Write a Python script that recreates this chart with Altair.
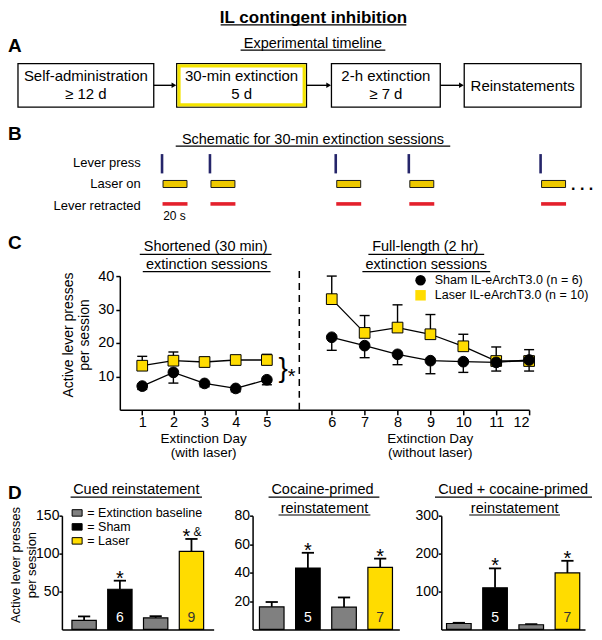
import altair as alt
import pandas as pd

# ---------------- data ----------------
timeline_stage = ["Self-administration", "30-min extinction", "2-h extinction", "Reinstatements"]
timeline_duration = ["≥ 12 d", "5 d", "≥ 7 d", ""]

schematic_rows = ["Lever press", "Laser on", "Lever retracted"]
press_times_s = [0, 40, 145, 206, 316]
laser_duration_s = 20

days = list(range(1, 13))
sham_mean = [7.1, 11.2, 7.9, 6.4, 9.0, 21.7, 19.2, 16.6, 14.7, 14.4, 14.2, 14.9]
sham_sem = [1.0, 3.2, 1.0, 1.0, 1.5, 3.9, 3.6, 3.1, 3.9, 3.2, 2.6, 3.3]
laser_mean = [13.2, 14.7, 14.3, 14.9, 14.9, 33.1, 23.0, 24.6, 22.6, 19.0, 14.6, 14.6]
laser_sem = [2.8, 2.6, 1.4, 1.0, 1.7, 6.9, 5.2, 6.8, 5.9, 3.6, 4.2, 3.4]
c_groups = ["Sham IL-eArchT3.0 (n = 6)", "Laser IL-eArchT3.0 (n = 10)"]

bar_ids = ["Sham baseline", "Sham", "Laser baseline", "Laser"]
bar_groups = ["Extinction baseline", "Sham", "Extinction baseline", "Laser"]
legend_groups = ["Extinction baseline", "Sham", "Laser"]

cued_mean = [12.0, 53.0, 15.3, 103.0]
cued_sem = [5.2, 11.3, 2.2, 16.3]
cued_n = ["", "6", "", "9"]
cued_sig = ["", "*", "", "*"]
cued_amp = ["", "", "", "&"]

cocaine_mean = [15.9, 43.2, 15.7, 43.6]
cocaine_sem = [3.4, 10.7, 6.8, 6.2]
cocaine_n = ["", "5", "", "7"]
cocaine_sig = ["", "*", "", "*"]
cocaine_amp = ["", "", "", ""]

combo_mean = [15.8, 110.0, 12.5, 149.0]
combo_sem = [1.8, 51.0, 1.5, 32.0]
combo_n = ["", "5", "", "7"]
combo_sig = ["", "*", "", "*"]
combo_amp = ["", "", "", ""]

# ---------------- styles / layout ----------------
FONT = "Liberation Sans"
YELLOW = "#FFDC00"
BOX_YELLOW = "#F4E400"
LASER_GOLD = "#EEC900"
RED = "#E4202C"
NAVY = "#25256A"
GRAY = "#808080"

W = 586
REF_X0 = 4
H1, H2, H3, H4 = 268, 134, 106, 114


def text_layer(df, xs, ys, size, weight="normal", align="center", color="black"):
    return alt.Chart(df).mark_text(font=FONT, fontSize=size, fontWeight=weight, align=align,
                                   baseline="alphabetic", color=color).encode(
        x=alt.X("x:Q", scale=xs, axis=None), y=alt.Y("y:Q", scale=ys, axis=None), text="t:N")


def rule_layer(df, xs, ys, color="black", width=1.0):
    return alt.Chart(df).mark_rule(color=color, strokeWidth=width).encode(
        x=alt.X("x:Q", scale=xs, axis=None), x2="x2:Q",
        y=alt.Y("y:Q", scale=ys, axis=None), y2="y2:Q")


def rect_layer(df, xs, ys, **kw):
    return alt.Chart(df).mark_rect(**kw).encode(
        x=alt.X("x:Q", scale=xs, axis=None), x2="x2:Q",
        y=alt.Y("y:Q", scale=ys, axis=None), y2="y2:Q")


def underline(x1, x2, y):
    return [x1, x2, y, y]


# ================= Row 1: title, A, B, C headings =================
xs1 = alt.Scale(domain=[REF_X0, REF_X0 + W], range=[0, W], nice=False, zero=False)
ys1 = alt.Scale(domain=[0, 277], range=[0, H1], nice=False, zero=False)

box_left = [14, 173, 328, 461]
box_right = [150, 303, 437, 578]
BOX_TOP, BOX_BOT, ARROW_Y = 57, 102, 79.5

t_title = pd.DataFrame([["IL contingent inhibition", 310, 14.5]], columns=["t", "x", "y"])
t_letters = pd.DataFrame([["A", 4, 45], ["B", 4, 136], ["C", 4, 249]], columns=["t", "x", "y"])
t_sub = pd.DataFrame([
    ["Experimental timeline", 309.5, 41],
    ["Schematic for 30-min extinction sessions", 309.5, 140],
    ["Shortened (30 min)", 202, 250.7],
    ["extinction sessions", 203, 269.7],
    ["Full-length (2 hr)", 422, 250.7],
    ["extinction sessions", 423, 269.7],
], columns=["t", "x", "y"])
under1 = pd.DataFrame([
    underline(217, 403, 17),
    underline(237, 382, 43),
    underline(172, 447, 142.5),
    underline(136, 268, 254.5),
    underline(139, 267, 272.3),
    underline(365, 481, 254.5),
    underline(359, 487, 272.3),
], columns=["x", "x2", "y", "y2"])

box_rows, box_txt = [], []
for i, (stage, dur) in enumerate(zip(timeline_stage, timeline_duration)):
    box_rows.append([box_left[i], box_right[i], BOX_TOP, BOX_BOT])
    cxm = (box_left[i] + box_right[i]) / 2
    if dur:
        box_txt.append([stage, cxm, 75])
        box_txt.append([dur, cxm, 94])
    else:
        box_txt.append([stage, cxm, 85])
boxes = pd.DataFrame(box_rows, columns=["x", "x2", "y", "y2"])
box_txt = pd.DataFrame(box_txt, columns=["t", "x", "y"])
inner_box = pd.DataFrame([[box_left[1] + 2.3, box_right[1] - 2.3, BOX_TOP + 2.3, BOX_BOT - 2.3]],
                         columns=["x", "x2", "y", "y2"])
arrows = pd.DataFrame([[box_right[i], box_left[i + 1] - 3, ARROW_Y, ARROW_Y] for i in range(3)],
                      columns=["x", "x2", "y", "y2"])
heads = pd.DataFrame([[box_left[i + 1] - 2.8, ARROW_Y] for i in range(3)], columns=["x", "y"])

PX_PER_S = 1.2
T0_X = 158.3
press_x = [T0_X + t * PX_PER_S for t in press_times_s]
press_df = pd.DataFrame([[p, p, 150.7, 170.7] for p in press_x], columns=["x", "x2", "y", "y2"])
laser_df = pd.DataFrame([[p + 1, p + 1 + laser_duration_s * PX_PER_S, 178, 185.3] for p in press_x],
                        columns=["x", "x2", "y", "y2"])
retract_df = pd.DataFrame([[p + 0.5, p + 1.5 + laser_duration_s * PX_PER_S, 202.3, 202.3] for p in press_x],
                          columns=["x", "x2", "y", "y2"])
row_lbl = pd.DataFrame([[schematic_rows[0], 137, 164.5], [schematic_rows[1], 137, 185.5],
                        [schematic_rows[2], 137, 208.5]], columns=["t", "x", "y"])
t_20s = pd.DataFrame([["20 s", T0_X + 12.5, 219]], columns=["t", "x", "y"])
t_dots = pd.DataFrame([[". . .", 568, 187.5]], columns=["t", "x", "y"])

row1 = alt.layer(
    rect_layer(boxes, xs1, ys1, fill="white", stroke="black", strokeWidth=1.3),
    rect_layer(inner_box, xs1, ys1, fillOpacity=0, stroke=BOX_YELLOW, strokeWidth=3.2),
    rule_layer(arrows, xs1, ys1, width=1.4),
    alt.Chart(heads).mark_point(shape="triangle-right", filled=True, size=30, color="black", opacity=1).encode(
        x=alt.X("x:Q", scale=xs1, axis=None), y=alt.Y("y:Q", scale=ys1, axis=None)),
    text_layer(t_title, xs1, ys1, 17, weight="bold"),
    text_layer(t_letters, xs1, ys1, 19, weight="bold", align="left"),
    text_layer(t_sub, xs1, ys1, 14.5),
    rule_layer(under1, xs1, ys1, width=1.2),
    text_layer(box_txt, xs1, ys1, 15),
    text_layer(row_lbl, xs1, ys1, 13, align="right"),
    rule_layer(press_df, xs1, ys1, color=NAVY, width=2.6),
    rect_layer(laser_df, xs1, ys1, fill=LASER_GOLD, stroke="#1a1a1a", strokeWidth=1),
    rule_layer(retract_df, xs1, ys1, color=RED, width=3.6),
    text_layer(t_20s, xs1, ys1, 12),
    text_layer(t_dots, xs1, ys1, 16, weight="bold", align="left"),
).properties(width=W, height=H1)

# ================= Row 2: panel C line chart =================
rows = []
for g, means, sems in [(c_groups[1], laser_mean, laser_sem), (c_groups[0], sham_mean, sham_sem)]:
    for d, m, s in zip(days, means, sems):
        if g == c_groups[1]:
            lo, hi, cap = m, m + s, m + s
        else:
            lo, hi, cap = m - s, m, m - s
        rows.append([g, d, m, lo, hi, cap, 1 if d <= 5 else 2])
cdf = pd.DataFrame(rows, columns=["group", "day", "mean", "lo", "hi", "cap", "phase"])

C_X0 = 112  # left edge of the panel-C plot inside the row
cx_scale = alt.Scale(domain=[0.28, 5, 6, 12], range=[C_X0, C_X0 + 147.3, C_X0 + 212.3, C_X0 + 410],
                     nice=False, zero=False)
cy_scale = alt.Scale(domain=[0, 40], nice=False, zero=True)
c_xaxis = alt.Axis(values=days, format="d", labelFontSize=14.5, tickSize=5, labelPadding=1, grid=False,
                   domainColor="black", tickColor="black", labelColor="black", domainWidth=1.5, tickWidth=1.5)
c_yaxis = alt.Axis(values=[10, 20, 30, 40], orient="left", offset=-C_X0, labelFontSize=14.5, tickSize=4,
                   labelPadding=2, grid=False,
                   domainColor="black", tickColor="black", labelColor="black", domainWidth=1.5, tickWidth=1.5,
                   titleFontSize=14, titleFontWeight="normal", titleColor="black", titleLineHeight=16.5,
                   titlePadding=6, titleY=58.5)
C_YTITLE = ["Active lever presses", "per session"]


def cX(f="day"):
    return alt.X(f"{f}:Q", scale=cx_scale, axis=c_xaxis, title=None)


def cY(f):
    return alt.Y(f"{f}:Q", scale=cy_scale, axis=c_yaxis, title=C_YTITLE)


c_legend = alt.Legend(orient="none", legendX=C_X0 + 295, legendY=-2, title=None, labelFontSize=12.5,
                      labelFont=FONT, labelColor="black", symbolSize=110, symbolStrokeColor="black",
                      symbolStrokeWidth=1, labelOffset=8, rowPadding=0, padding=0)

dash_df = pd.DataFrame({"day": [5.5], "lo": [0], "hi": [42]})
brace_df = pd.DataFrame({"day": [5.25], "mean": [11.8], "t": ["}"]})
star_df = pd.DataFrame({"day": [5.38], "mean": [11.4], "t": ["*"]})

row2 = alt.layer(
    alt.Chart(dash_df).mark_rule(strokeDash=[7, 5], strokeWidth=1.5, color="black").encode(
        x=cX(), y=cY("lo"), y2="hi:Q"),
    alt.Chart(cdf).mark_line(color="black", strokeWidth=1.3).encode(
        x=cX(), y=cY("mean"), detail=["group:N", "phase:N"]),
    alt.Chart(cdf).mark_rule(color="black", strokeWidth=1.4).encode(x=cX(), y=cY("lo"), y2="hi:Q"),
    alt.Chart(cdf).mark_point(shape="stroke", size=100, color="black", strokeWidth=1.4, opacity=1).encode(
        x=cX(), y=cY("cap")),
    alt.Chart(cdf).mark_point(filled=True, size=115, stroke="black", strokeWidth=1, opacity=1).encode(
        x=cX(), y=cY("mean"),
        fill=alt.Fill("group:N", scale=alt.Scale(domain=c_groups, range=["black", YELLOW]), legend=c_legend),
        shape=alt.Shape("group:N", scale=alt.Scale(domain=c_groups, range=["circle", "square"]), legend=c_legend)),
    alt.Chart(brace_df).mark_text(fontSize=28, dy=7, baseline="alphabetic", font=FONT, color="black").encode(
        x=cX(), y=cY("mean"), text="t:N"),
    alt.Chart(star_df).mark_text(fontSize=20, dy=11, baseline="alphabetic", font=FONT, color="black").encode(
        x=cX(), y=cY("mean"), text="t:N"),
).properties(width=W, height=H2)

# ================= Row 3: C x-titles, D heading and titles =================
xs3 = alt.Scale(domain=[REF_X0, REF_X0 + W], range=[0, W], nice=False, zero=False)
ys3 = alt.Scale(domain=[414, 522], range=[0, H3], nice=False, zero=False)
t_cx = pd.DataFrame([["Extinction Day", 200, 447.5], ["(with laser)", 200, 462.5],
                     ["Extinction Day", 427, 447.5], ["(without laser)", 427, 462.5]], columns=["t", "x", "y"])
t_d = pd.DataFrame([["D", 4, 505]], columns=["t", "x", "y"])
t_dt = pd.DataFrame([["Cued reinstatement", 132.5, 500], ["Cocaine-primed", 319, 500],
                     ["reinstatement", 321, 519], ["Cued + cocaine-primed", 510, 500],
                     ["reinstatement", 511.5, 519]], columns=["t", "x", "y"])
under3 = pd.DataFrame([underline(66.7, 198.3, 503), underline(265, 376, 503), underline(275, 367, 521.3),
                       underline(431.7, 589, 503), underline(466, 557, 521.3)], columns=["x", "x2", "y", "y2"])
row3 = alt.layer(
    text_layer(t_cx, xs3, ys3, 13.5),
    text_layer(t_d, xs3, ys3, 19, weight="bold", align="left"),
    text_layer(t_dt, xs3, ys3, 14.5),
    rule_layer(under3, xs3, ys3, width=1.2),
).properties(width=W, height=H3)


# ================= Row 4: panel D bar charts =================
def bar_panel(mean, sem, nlab, sig, amp, ymax, yvals, x0, width, pad_outer, y_title, legend):
    df = pd.DataFrame({"bar": bar_ids, "group": bar_groups, "mean": mean, "sem": sem,
                       "top": [m + s for m, s in zip(mean, sem)], "zero": [0] * 4,
                       "n": nlab, "sig": sig, "amp": amp})
    xs = alt.Scale(domain=bar_ids, range=[x0, x0 + width], paddingInner=0.32, paddingOuter=pad_outer)
    ys = alt.Scale(domain=[0, ymax], nice=False, zero=True)
    xax = alt.Axis(orient="bottom", labels=False, ticks=False, title=None, domainColor="black",
                   domainWidth=1.5, grid=False)
    yargs = dict(values=yvals, orient="left", offset=-x0, labelFontSize=14, tickSize=3, labelPadding=0,
                 domainColor="black", domainWidth=1.5, tickColor="black", tickWidth=1.5, labelColor="black",
                 grid=False, titleFontSize=13, titleFontWeight="normal", titleColor="black",
                 titleLineHeight=15.5)
    if y_title:
        yargs["titleY"] = 49
        yargs["titleX"] = -39
    yax = alt.Axis(**yargs)

    def X_():
        return alt.X("bar:N", scale=xs, axis=xax, title=None, sort=bar_ids)

    def Y_(f):
        return alt.Y(f"{f}:Q", scale=ys, axis=yax, title=y_title)

    layers = [
        alt.Chart(df).mark_rule(color="black", strokeWidth=1.8).encode(x=X_(), y=Y_("mean"), y2="top:Q"),
        alt.Chart(df).mark_point(shape="stroke", size=150, color="black", strokeWidth=1.8, opacity=1).encode(
            x=X_(), y=Y_("top")),
        alt.Chart(df).mark_bar(stroke="black", strokeWidth=1.2).encode(
            x=X_(), y=Y_("mean"),
            fill=alt.Fill("group:N", scale=alt.Scale(domain=legend_groups, range=[GRAY, "black", YELLOW]),
                          legend=legend)),
        alt.Chart(df).transform_filter("datum.sig != '' && datum.amp == ''").mark_text(
            fontSize=20, dy=4, baseline="alphabetic", font=FONT, color="black").encode(
            x=X_(), y=Y_("top"), text="sig:N"),
        alt.Chart(df).transform_filter("datum.sig != '' && datum.amp != ''").mark_text(
            fontSize=20, dy=4, dx=-5, baseline="alphabetic", font=FONT, color="black").encode(
            x=X_(), y=Y_("top"), text="sig:N"),
        alt.Chart(df).transform_filter("datum.amp != ''").mark_text(
            fontSize=12, dy=-3, dx=6, baseline="alphabetic", font=FONT, color="black").encode(
            x=X_(), y=Y_("top"), text="amp:N"),
        alt.Chart(df).transform_filter("datum.group == 'Sham'").mark_text(
            fontSize=14, dy=-7, baseline="alphabetic", font=FONT, color="white").encode(
            x=X_(), y=Y_("zero"), text="n:N"),
        alt.Chart(df).transform_filter("datum.group == 'Laser'").mark_text(
            fontSize=14, dy=-7, baseline="alphabetic", font=FONT, color="#333333").encode(
            x=X_(), y=Y_("zero"), text="n:N"),
    ]
    return alt.layer(*layers)


D1_X0, D2_X0, D3_X0 = 54, 245, 434
d_legend = alt.Legend(orient="none", legendX=D1_X0 + 9, legendY=-9, title=None,
                      symbolType="M-1,-0.65H1V0.65H-1Z", symbolSize=100, symbolStrokeColor="black",
                      symbolStrokeWidth=1, labelFontSize=12.5, labelFont=FONT, labelColor="black",
                      labelExpr="'= ' + datum.label", labelOffset=4, rowPadding=1, padding=0)

d1 = bar_panel(cued_mean, cued_sem, cued_n, cued_sig, cued_amp, 150, [50, 100, 150], D1_X0, 152, 0.28,
               ["Active lever presses", "per session"], d_legend)
d2 = bar_panel(cocaine_mean, cocaine_sem, cocaine_n, cocaine_sig, cocaine_amp, 80, [20, 40, 60, 80],
               D2_X0, 147, 0.19, None, None)
d3 = bar_panel(combo_mean, combo_sem, combo_n, combo_sig, combo_amp, 300, [100, 200, 300],
               D3_X0, 144, 0.146, None, None)

row4 = alt.layer(d1, d2, d3).resolve_scale(
    x="independent", y="independent", fill="independent").resolve_axis(
    x="independent", y="independent").resolve_legend(fill="independent").properties(width=W, height=H4)

chart = alt.vconcat(row1, row2, row3, row4, spacing=0, bounds="flush").resolve_scale(
    fill="independent", shape="independent").resolve_legend(
    fill="independent", shape="independent").properties(padding=0, background="white").configure(
    font=FONT).configure_view(stroke=None)

chart.save("out.html", embed_options={"renderer": "svg", "actions": False})
